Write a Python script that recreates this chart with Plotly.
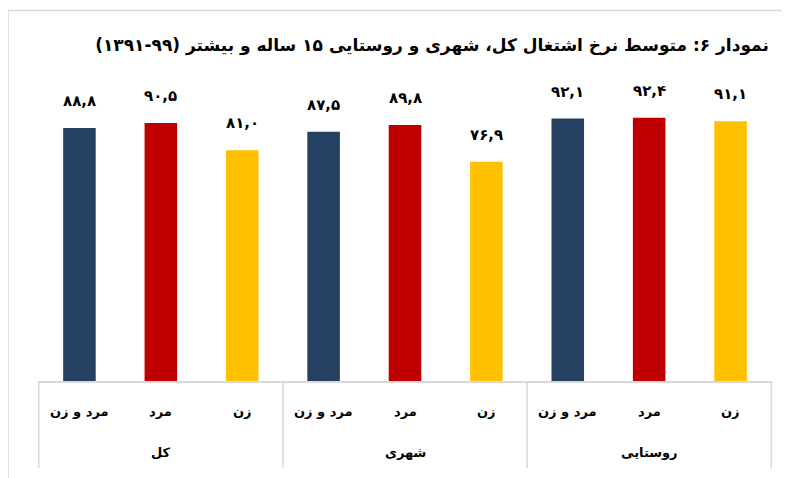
import plotly.graph_objects as go

groups = ["کل", "شهری", "روستایی"]
subcats = ["مرد و زن", "مرد", "زن"]
values = {
    "کل": [88.8, 90.5, 81.0],
    "شهری": [87.5, 89.8, 76.9],
    "روستایی": [92.1, 92.4, 91.1],
}
colors = ["#264061", "#C00000", "#FFC000"]

title = "\u200fنمودار ۶: متوسط نرخ اشتغال کل، شهری و روستایی ۱۵ ساله و بیشتر (۹۹-۱۳۹۱)\u200f"

FONT = "DejaVu Sans"
fa = str.maketrans("0123456789.", "۰۱۲۳۴۵۶۷۸۹,")

def fa_num(v):
    return f"{v:.1f}".translate(fa)

xo, xi, ys, cs = [], [], [], []
for g in groups:
    for j, s in enumerate(subcats):
        xo.append(g)
        xi.append(s)
        ys.append(values[g][j])
        cs.append(colors[j])

fig = go.Figure()
fig.add_trace(go.Bar(
    x=[xo, xi], y=ys,
    marker=dict(color=cs, line=dict(width=0)),
    showlegend=False,
    hoverinfo="skip",
))

PLOT_H = 285  # pixel height of plot area
GRID = "#D9D9D9"
annotations = []
shapes = []
# value labels above bars
for i, v in enumerate(ys):
    annotations.append(dict(
        x=i, y=v, xref="x", yref="y",
        text=fa_num(v), showarrow=False,
        yanchor="middle", yshift=27,
        font=dict(family=FONT, size=15, color="#000000", weight="bold"),
    ))
# two-level category labels
for i, s in enumerate(xi):
    annotations.append(dict(
        x=i, y=0, xref="x", yref="paper",
        text=s, showarrow=False, yanchor="middle", yshift=-30,
        font=dict(family=FONT, size=13, color="#000000", weight="bold"),
    ))
n = len(subcats)
for k, g in enumerate(groups):
    annotations.append(dict(
        x=k * n + (n - 1) / 2, y=0, xref="x", yref="paper",
        text=g, showarrow=False, yanchor="middle", yshift=-71,
        font=dict(family=FONT, size=13, color="#000000", weight="bold"),
    ))
# group dividers
for k in range(len(groups) + 1):
    xd = k * n - 0.5
    shapes.append(dict(
        type="line", xref="x", yref="paper",
        x0=xd, x1=xd, y0=0, y1=-87 / PLOT_H,
        line=dict(color=GRID, width=1.5),
    ))
# outer chart border
shapes.append(dict(
    type="rect", xref="paper", yref="paper",
    x0=-0.0409, x1=1.2, y0=-0.6, y1=1.3,
    line=dict(color=GRID, width=1.5), fillcolor="rgba(0,0,0,0)",
    layer="below",
))

# page body has an 8px margin; figure is sized to fit the 790x478 window
W, H = 782, 470
fig.update_layout(
    width=W, height=H,
    margin=dict(l=30, r=18, t=88, b=97),
    paper_bgcolor="white", plot_bgcolor="white",
    bargap=0.6,
    title=dict(
        text=title, x=(432 - 8) / W, xref="container", xanchor="center",
        y=1 - (45 - 8) / H, yref="container", yanchor="middle",
        font=dict(family=FONT, size=17, color="#000000", weight="bold"),
    ),
    annotations=annotations,
    shapes=shapes,
    xaxis=dict(
        type="multicategory",
        showline=True, linecolor=GRID, linewidth=1.5,
        showdividers=False, showticklabels=False,
        ticks="", showgrid=False,
    ),
    yaxis=dict(
        range=[0, 100], visible=False, showgrid=False, zeroline=False,
    ),
)

fig.write_html("out.html")
